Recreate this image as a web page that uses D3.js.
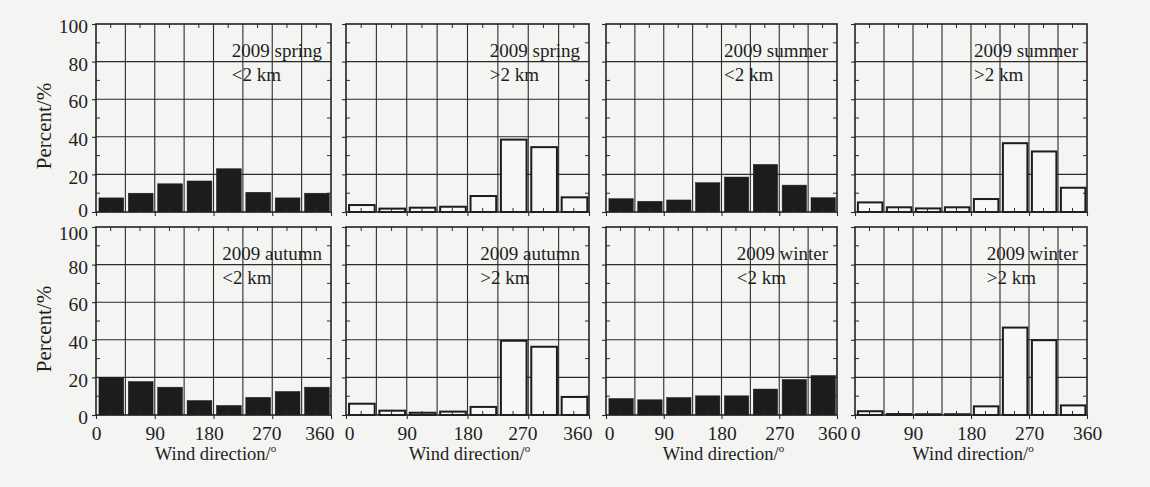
<!DOCTYPE html>
<html>
<head>
<meta charset="utf-8">
<script src="https://cdn.jsdelivr.net/npm/d3@7"></script>
<style>
  html, body { margin: 0; padding: 0; background: #f4f4f2; }
  svg { display: block; }
  text { font-family: "Liberation Serif", "Times New Roman", serif; fill: #1e1e1e; }
</style>
</head>
<body>
<svg id="chart" width="1150" height="487"></svg>
<script>
// ---- data (percent of observations per 45° wind-direction bin) ----
const binStarts = [0, 45, 90, 135, 180, 225, 270, 315];
const xTickValues = [0, 90, 180, 270, 360];
const yTickValues = [0, 20, 40, 60, 80, 100];

const springLow  = [7.5, 10, 15, 16.5, 23, 10.5, 7.5, 10];
const springHigh = [3.7, 1.8, 2.3, 2.8, 8.5, 38.5, 34.5, 7.8];
const summerLow  = [7.1, 5.7, 6.4, 15.6, 18.6, 25.3, 14.3, 7.6];
const summerHigh = [5.1, 2.5, 1.9, 2.5, 6.9, 36.6, 32.2, 12.9];
const autumnLow  = [19.9, 17.8, 14.8, 7.7, 5.1, 9.4, 12.5, 14.8];
const autumnHigh = [6.0, 2.3, 1.2, 1.8, 4.3, 39.5, 36.3, 9.6];
const winterLow  = [8.8, 8.1, 9.3, 10.2, 10.2, 13.8, 18.9, 21.0];
const winterHigh = [2.0, 0.5, 0.4, 0.4, 4.6, 46.5, 39.8, 5.1];

const panelTitles = ["2009 spring", "2009 spring", "2009 summer", "2009 summer",
                     "2009 autumn", "2009 autumn", "2009 winter", "2009 winter"];
const panelLayers = ["<2 km", ">2 km", "<2 km", ">2 km", "<2 km", ">2 km", "<2 km", ">2 km"];
const panelSeries = [springLow, springHigh, summerLow, summerHigh,
                     autumnLow, autumnHigh, winterLow, winterHigh];

const yAxisTitle = "Percent/%";
const xAxisTitle = "Wind direction/";

// ---- layout ----
const colLeft  = [96, 346, 606, 855];
const colRight = [331, 589, 837, 1087];
const rowTop    = [24, 227];
const rowBottom = [212, 415];

const svg = d3.select("#chart");

panelSeries.forEach((values, i) => {
  const col = i % 4, row = Math.floor(i / 4);
  const filled = panelLayers[i].startsWith("<");
  const x = d3.scaleLinear().domain([0, 360]).range([colLeft[col], colRight[col]]);
  const y = d3.scaleLinear().domain([0, 100]).range([rowBottom[row], rowTop[row]]);
  const g = svg.append("g");

  // grid
  g.selectAll("line.vg").data(d3.range(45, 360, 45)).join("line")
    .attr("x1", d => x(d)).attr("x2", d => x(d))
    .attr("y1", y(0)).attr("y2", y(100))
    .attr("stroke", "#2b2b2b").attr("stroke-width", 1.1);
  g.selectAll("line.hg").data([20, 40, 60, 80]).join("line")
    .attr("x1", x(0)).attr("x2", x(360))
    .attr("y1", d => y(d)).attr("y2", d => y(d))
    .attr("stroke", "#2b2b2b").attr("stroke-width", 1.1);

  // bars
  g.selectAll("rect.bar").data(binStarts.map((b, k) => ({b, v: values[k]}))).join("rect")
    .attr("x", d => x(d.b + 4.5))
    .attr("width", d => x(d.b + 42.5) - x(d.b + 4.5))
    .attr("y", d => y(d.v))
    .attr("height", d => y(0) - y(d.v))
    .attr("fill", filled ? "#1c1c1c" : "#f7f7f5")
    .attr("stroke", "#1c1c1c")
    .attr("stroke-width", filled ? 0.5 : 2);

  // minor ticks (inward) on all sides
  const minorX = d3.range(22.5, 360, 45);
  g.selectAll("line.mxb").data(minorX).join("line")
    .attr("x1", d => x(d)).attr("x2", d => x(d))
    .attr("y1", y(0)).attr("y2", y(0) - 4)
    .attr("stroke", "#2b2b2b").attr("stroke-width", 1);
  g.selectAll("line.mxt").data(minorX).join("line")
    .attr("x1", d => x(d)).attr("x2", d => x(d))
    .attr("y1", y(100)).attr("y2", y(100) + 4)
    .attr("stroke", "#2b2b2b").attr("stroke-width", 1);
  const minorY = d3.range(10, 100, 20);
  g.selectAll("line.myl").data(minorY).join("line")
    .attr("x1", x(0)).attr("x2", x(0) + 4)
    .attr("y1", d => y(d)).attr("y2", d => y(d))
    .attr("stroke", "#2b2b2b").attr("stroke-width", 1);
  g.selectAll("line.myr").data(minorY).join("line")
    .attr("x1", x(360)).attr("x2", x(360) - 4)
    .attr("y1", d => y(d)).attr("y2", d => y(d))
    .attr("stroke", "#2b2b2b").attr("stroke-width", 1);

  // axes with outward major ticks
  const yAxis = d3.axisLeft(y).tickValues(yTickValues).tickSize(4)
    .tickFormat(col === 0 ? d3.format("d") : () => "");
  const ya = g.append("g").attr("transform", `translate(${x(0)},0)`).call(yAxis);
  ya.select(".domain").remove();
  ya.selectAll(".tick line").attr("stroke", "#2b2b2b").attr("stroke-width", 1.1);
  ya.selectAll(".tick text").attr("font-size", 19.5).attr("x", -8)
    .attr("dy", d => {
      if (d === 0 && row === 0) return "0.25em";
      if (d === 100 && row === 1) return "0.65em";
      return "0.45em";
    })
    .attr("font-family", "Liberation Serif").attr("fill", "#1e1e1e");

  const xAxis = d3.axisBottom(x).tickValues(xTickValues).tickSize(4)
    .tickFormat(row === 1 ? d3.format("d") : () => "");
  const xa = g.append("g").attr("transform", `translate(0,${y(0)})`).call(xAxis);
  xa.select(".domain").remove();
  xa.selectAll(".tick line").attr("stroke", "#2b2b2b").attr("stroke-width", 1.1);
  xa.selectAll(".tick text").attr("font-size", 19.5).attr("y", 11)
    .attr("font-family", "Liberation Serif").attr("fill", "#1e1e1e")
    .attr("text-anchor", d => (d === 360 && col < 2) ? "end" : "middle")
    .attr("dx", d => {
      if (d === 360 && col < 2) return 3;
      if (d === 360 && col === 2) return -5;
      if (d === 0 && (col === 1 || col === 2)) return 3;
      if (d === 270 && col < 2) return -6;
      if (d === 180 && col === 0) return -5;
      return 0;
    });

  // frame
  g.append("rect")
    .attr("x", x(0)).attr("y", y(100))
    .attr("width", x(360) - x(0)).attr("height", y(0) - y(100))
    .attr("fill", "none").attr("stroke", "#222").attr("stroke-width", 1.6);

  // annotation
  const t1 = g.append("text").attr("font-size", 19).text(panelTitles[i]);
  const w = t1.node().getComputedTextLength();
  const tx = x(360) - 9 - w;
  t1.attr("x", tx).attr("y", y(100) + 33);
  g.append("text").attr("font-size", 19).attr("x", tx).attr("y", y(100) + 57)
    .text(panelLayers[i]);

  // axis titles
  if (col === 0) {
    const cy = (y(0) + y(100)) / 2 + 8;
    g.append("text").attr("font-size", 21)
      .attr("transform", `translate(51,${cy}) rotate(-90)`)
      .attr("text-anchor", "middle").text(yAxisTitle);
  }
  if (row === 1) {
    const t = g.append("text").attr("font-size", 18.5)
      .attr("x", (x(0) + x(360)) / 2 + 2).attr("y", y(0) + 45)
      .attr("text-anchor", "middle").text(xAxisTitle);
    t.append("tspan").attr("font-size", 11).attr("dy", -8).text("o");
  }
});
</script>
</body>
</html>
